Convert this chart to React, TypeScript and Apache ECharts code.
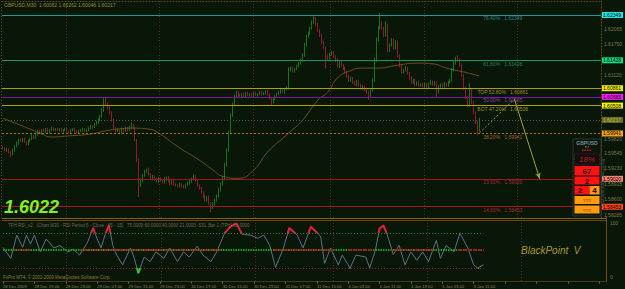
import React, { useEffect, useRef } from "react";
import * as echarts from "echarts";

// ---------------- DATA ----------------
const TOTAL_SLOTS = 308; // bar slots incl. empty chart shift on the right
const firstOpen = 15966; // price in 1e-4 units
const closes = [
  15964, 15960, 15962, 15956, 15952, 15960, 15968, 15974, 15981, 15979, 15983, 15977, 15972, 15979, 15983, 15989, 15985, 15993, 15999, 15995,
  16001, 15999, 16003, 15997, 16001, 16005, 16001, 16003, 16001, 16003, 15999, 16001, 16003, 15999, 15997, 16001, 16003, 15999, 15997, 15999,
  16001, 16003, 15999, 16001, 16005, 16009, 16007, 16013, 16017, 16021, 16029, 16041, 16062, 16054, 16046, 16037, 16021, 16005, 15999, 16001,
  15995, 16003, 15999, 16005, 16001, 16007, 16011, 16005, 15981, 15940, 15889, 15899, 15909, 15916, 15920, 15911, 15903, 15907, 15901, 15897,
  15903, 15899, 15895, 15901, 15905, 15897, 15893, 15899, 15891, 15889, 15887, 15891, 15887, 15885, 15889, 15893, 15897, 15901, 15907, 15899,
  15889, 15883, 15875, 15867, 15859, 15865, 15852, 15844, 15850, 15859, 15867, 15879, 15891, 15903, 15930, 15960, 15997, 16031, 16054, 16070,
  16078, 16072, 16068, 16074, 16070, 16076, 16072, 16074, 16070, 16076, 16072, 16074, 16078, 16074, 16076, 16080, 16074, 16066, 16058, 16064,
  16070, 16074, 16078, 16082, 16078, 16084, 16086, 16123, 16127, 16121, 16125, 16131, 16137, 16143, 16153, 16174, 16192, 16198, 16208, 16220,
  16228, 16216, 16204, 16194, 16180, 16168, 16151, 16147, 16155, 16159, 16151, 16143, 16131, 16139, 16133, 16127, 16119, 16111, 16102, 16107,
  16098, 16094, 16100, 16092, 16086, 16090, 16084, 16078, 16072, 16082, 16102, 16143, 16184, 16208, 16220, 16208, 16194, 16214, 16163, 16174,
  16184, 16168, 16180, 16153, 16133, 16119, 16123, 16127, 16117, 16107, 16098, 16102, 16094, 16098, 16092, 16094, 16090, 16094, 16088, 16096,
  16100, 16094, 16098, 16078, 16090, 16094, 16090, 16096, 16092, 16098, 16102, 16123, 16137, 16147, 16143, 16133, 16113, 16086, 16068, 16052,
  16082, 16058, 16037, 16017, 16001, 16022,
];
const upWick = [
  3, 2, 3, 2, 2, 3, 2, 4, 2, 3, 2, 3, 2, 3, 2, 4, 2, 3, 2, 3,
  2, 3, 2, 3, 2, 3, 2, 2, 3, 2, 3, 2, 3, 2, 2, 3, 2, 3, 2, 3,
  2, 3, 2, 3, 2, 3, 2, 3, 3, 4, 3, 5, 4, 6, 3, 3, 2, 3, 2, 3,
  2, 3, 2, 3, 2, 3, 6, 2, 3, 2, 3, 4, 3, 4, 3, 5, 3, 3, 2, 3,
  3, 2, 3, 4, 2, 3, 2, 3, 3, 2, 2, 3, 2, 3, 2, 3, 4, 3, 4, 3,
  3, 2, 3, 2, 3, 2, 3, 2, 4, 3, 3, 4, 3, 5, 4, 4, 3, 4, 3, 3,
  3, 2, 3, 2, 3, 2, 3, 2, 3, 2, 3, 2, 3, 2, 3, 2, 3, 2, 3, 3,
  2, 3, 2, 3, 2, 3, 4, 6, 3, 3, 2, 3, 3, 3, 4, 4, 3, 3, 3, 4,
  7, 3, 3, 2, 3, 3, 3, 4, 3, 3, 3, 2, 4, 3, 3, 2, 3, 2, 3, 3,
  2, 3, 3, 2, 3, 3, 2, 3, 2, 3, 4, 5, 5, 4, 19, 3, 3, 8, 3, 3,
  4, 3, 4, 3, 2, 3, 3, 4, 3, 2, 3, 3, 3, 2, 3, 2, 3, 3, 3, 2,
  3, 2, 3, 2, 3, 2, 3, 3, 2, 3, 3, 4, 4, 3, 6, 3, 3, 2, 3, 2,
  14, 3, 3, 2, 3, 4,
];
const downWick = [
  3, 2, 3, 3, 6, 2, 3, 2, 3, 2, 3, 2, 3, 2, 3, 2, 3, 2, 3, 2,
  3, 2, 3, 2, 3, 2, 3, 2, 2, 3, 2, 3, 2, 3, 2, 3, 2, 3, 3, 2,
  2, 3, 2, 3, 2, 2, 3, 2, 2, 3, 2, 3, 3, 3, 3, 4, 3, 3, 3, 2,
  3, 2, 3, 2, 3, 2, 3, 2, 3, 4, 24, 4, 3, 3, 2, 3, 3, 4, 3, 3,
  3, 3, 2, 3, 3, 2, 4, 3, 3, 3, 3, 2, 3, 3, 3, 2, 3, 3, 2, 3,
  3, 3, 3, 4, 3, 3, 3, 10, 3, 3, 3, 3, 3, 3, 3, 3, 3, 3, 3, 3,
  3, 3, 2, 3, 2, 3, 2, 3, 2, 3, 2, 3, 2, 3, 2, 3, 3, 3, 8, 3,
  2, 3, 2, 3, 2, 3, 2, 3, 3, 3, 3, 2, 3, 3, 3, 3, 3, 3, 3, 3,
  3, 4, 3, 4, 4, 3, 25, 4, 3, 3, 4, 4, 3, 4, 3, 4, 3, 4, 3, 3,
  3, 3, 4, 3, 3, 3, 4, 3, 10, 3, 3, 3, 3, 3, 3, 3, 4, 3, 4, 3,
  3, 4, 3, 4, 4, 3, 3, 3, 3, 4, 3, 3, 3, 3, 3, 3, 3, 3, 3, 3,
  3, 3, 3, 10, 3, 3, 3, 3, 3, 3, 3, 3, 3, 3, 3, 3, 4, 4, 4, 4,
  4, 4, 4, 4, 10, 3,
];
// moving average samples [bar index, price]
const maPoints = [
  [0, 1.6025], [9, 1.6011], [19, 1.5995], [25, 1.5987], [33, 1.5989], [45, 1.5993], [55, 1.6001],
  [67, 1.6005], [75, 1.6003], [80, 1.5995], [90, 1.5967], [101, 1.594], [108, 1.592], [113, 1.5907],
  [121, 1.5903], [129, 1.592], [136, 1.5956], [147, 1.5995], [154, 1.6021], [162, 1.6062], [167, 1.6078],
  [172, 1.6107], [177, 1.6119], [185, 1.6127], [193, 1.6127], [203, 1.6133], [213, 1.6137], [222, 1.6135],
  [228, 1.6127], [237, 1.6119], [245, 1.6111],
];
// RSI samples [bar index, value]
const rsiPoints = [
  [0, 53], [4, 36], [7, 72], [10, 53], [12, 72], [14, 58], [16, 72], [19, 46], [22, 66], [26, 52], [29, 56],
  [33, 46], [36, 50], [39, 41], [43, 60], [46, 83], [48, 66], [50, 52], [52, 72], [54, 87], [56, 56], [58, 41],
  [61, 26], [65, 52], [67, 36], [69, 13], [72, 38], [75, 31], [78, 46], [82, 36], [85, 52], [89, 31], [92, 46],
  [95, 38], [99, 55], [102, 41], [106, 31], [109, 46], [113, 75], [116, 85], [119, 90], [122, 73], [126, 72],
  [130, 67], [133, 72], [136, 56], [139, 22], [143, 52], [146, 83], [150, 72], [153, 52], [157, 85], [162, 70],
  [164, 28], [167, 52], [171, 26], [173, 41], [177, 21], [180, 41], [185, 38], [187, 21], [190, 50], [192, 82],
  [194, 87], [196, 72], [199, 42], [202, 56], [205, 26], [208, 46], [211, 33], [214, 46], [217, 31], [221, 64],
  [223, 36], [226, 56], [230, 46], [233, 75], [237, 52], [240, 26], [242, 21], [245, 26],
];
const midRedSegments = [[6, 14], [40, 111], [138, 169], [176, 189], [198, 220], [232, 245]];
const rsiLevels = { upper: 75, mid: 50, lower: 21 };
const timeLabels = [
  "28 Dec 2009", "28 Dec 15:00", "28 Dec 23:00", "29 Dec 07:00", "29 Dec 15:00", "29 Dec 23:00",
  "30 Dec 07:00", "30 Dec 15:00", "30 Dec 23:00", "31 Dec 07:00", "31 Dec 15:00", "4 Jan 03:00",
  "4 Jan 11:00", "4 Jan 19:00", "5 Jan 03:00", "5 Jan 11:00",
];
const LABEL_EVERY = 16;
const daySeparators = [33, 81, 129, 169, 217, 265];
const priceTicks = [1.62065, 1.6175, 1.6112, 1.5982, 1.59545, 1.5923, 1.58915, 1.586, 1.58285];
const priceMin = 1.58224;
const priceMax = 1.62633;
const fibNames = ["76.40%", "61.80%", "TOP 52.80%", "50.00%", "BOT 47.20%", "38.20%", "23.60%", "14.60%"];
const fibPrices = [1.62349, 1.61428, 1.60861, 1.60685, 1.60508, 1.59941, 1.5902, 1.58453];
const fibLabelSlot = 257;
const bidPrice = 1.60217;
const arrowPath = [[245, 1.5995], [263, 1.6064], [276, 1.5902]];
const headerText = "GBPUSD,M30  1.60062 1.60262 1.60046 1.60217";
const bigPrice = "1.6022";

// ---------------- STYLES ----------------
const BG = "#091709";
const FONT = "Liberation Sans";
const fibLineColors = ["#229a9a", "#129a62", "#b49c06", "#7e12b0", "#b4a010", "#b07018", "#9a1a1a", "#a41a1a"];
const fibLineDashed = [false, false, false, false, false, true, false, false];
const fibTextColors = ["#2fa2b2", "#22a272", "#c2b224", "#b244d2", "#c2b224", "#c27c32", "#c43232", "#c43232"];
const fibBoxColors = ["#22e6e6", "#12d882", "#f2f200", "#f222f2", "#f2f200", "#f2a212", "#f28272", "#ff4618"];

function buildOption(): any {
  const cats = Array.from({ length: TOTAL_SLOTS }, (_, i) => String(i));
  const candles = closes.map((c, i) => {
    const o = i === 0 ? firstOpen : closes[i - 1];
    const hi = Math.max(o, c) + upWick[i];
    const lo = Math.min(o, c) - downWick[i];
    return [o / 1e4, c / 1e4, lo / 1e4, hi / 1e4];
  });

  const fibMarks = fibPrices.map((p, k) => ({
    yAxis: p,
    lineStyle: { color: fibLineColors[k], width: 1, type: fibLineDashed[k] ? [2, 2] : "solid" },
    label: {
      show: true, position: "end", distance: 1, formatter: () => p.toFixed(5),
      backgroundColor: fibBoxColors[k], color: "#000", fontSize: 5, fontFamily: FONT,
      padding: [1, 2, 0, 1],
    },
  }));
  const bidMark = {
    yAxis: bidPrice,
    lineStyle: { color: "#5a5a5a", width: 1, type: [1, 2] },
    label: {
      show: true, position: "end", distance: 1, formatter: () => bidPrice.toFixed(5),
      backgroundColor: "#6a6a1c", color: "#b4b470", fontSize: 5, fontFamily: FONT, padding: [1, 2, 0, 1],
    },
  };
  const arrowMarks = [
    [
      { coord: arrowPath[0], lineStyle: { color: "#9a9a32", width: 1, type: [2, 2] } },
      { coord: arrowPath[1] },
    ],
    [
      { coord: arrowPath[1], lineStyle: { color: "#a2a232", width: 1, type: "solid" } },
      { coord: arrowPath[2], symbol: "arrow", symbolSize: [4, 6] },
    ],
  ];

  const dotted = [1, 2];
  const splitLine = {
    show: true,
    interval: (idx: number) => daySeparators.includes(idx),
    lineStyle: { color: "#5a2e16", type: dotted, width: 1 },
  };

  const last = closes.length - 1;
  const midMarks = [
    [{ coord: [0, rsiLevels.upper], lineStyle: { color: "#1c8c1c", type: dotted, width: 1 } }, { coord: [last, rsiLevels.upper] }],
    [{ coord: [0, rsiLevels.lower], lineStyle: { color: "#9c1c1c", type: dotted, width: 1 } }, { coord: [last, rsiLevels.lower] }],
    [{ coord: [0, rsiLevels.mid], lineStyle: { color: "#14a414", type: [1.5, 1], width: 2 } }, { coord: [last, rsiLevels.mid] }],
    ...midRedSegments.map(([s, e]) => [
      { coord: [s, rsiLevels.mid], lineStyle: { color: "#c41616", type: [1.5, 1], width: 2 } },
      { coord: [e, rsiLevels.mid] },
    ]),
  ];

  const txt = (x: number, y: number, text: string, fill: string, fontSize: number, extra: any = {}) => ({
    type: "text", x, y, z: 100, silent: true,
    style: { text, fill, fontSize, fontFamily: FONT, textVerticalAlign: "middle", ...extra },
  });
  const box = (x: number, y: number, w: number, h: number, fill: string, stroke?: string, dash?: any) => ({
    type: "rect", z: 99, silent: true, shape: { x, y, width: w, height: h },
    style: { fill, stroke: stroke || null, lineWidth: stroke ? 1 : 0, lineDash: dash || null },
  });
  const hline = (x1: number, x2: number, y: number, stroke: string, dash?: any) => ({
    type: "line", z: 98, silent: true, shape: { x1, y1: y, x2, y2: y },
    style: { stroke, lineWidth: 1, lineDash: dash || null },
  });

  const graphic = [
    txt(4, 5, headerText, "#9e8c2a", 5),
    txt(4, 207, bigPrice, "#86f01e", 18, { fontWeight: "bold", fontStyle: "italic" }),
    hline(2, 606, 218.5, "#8a5c14"),
    hline(2, 606, 220.5, "#6a4410"),
    { type: "line", z: 98, silent: true, shape: { x1: 1.5, y1: 1, x2: 1.5, y2: 218 }, style: { stroke: "#5a4a22", lineWidth: 1, lineDash: [1, 2] } },
    txt(8, 225.5, "TFH RSI_v2   (Chart M30 - RSI Period 5 - Close   65 - 15)   75.0000 60.0000 40.0000 21.0000 -SSL Bar 1 (TFH) 50.0000", "#6e6c4c", 4.5),
    txt(3, 277, "FxPro MT4, \u00a9 2001-2009 MetaQuotes Software Corp.", "#8a7a32", 4.5),
    txt(521, 250, "BlackPoint  V", "#a89828", 10, { fontStyle: "italic" }),
    // info panel
    box(573, 139, 28, 77, "#0b150e", "#2a382e"),
    txt(587, 142.5, "GBPUSD", "#72928e", 5, { fontWeight: "bold", textAlign: "center" }),
    box(585, 146, 1.5, 1.5, "#2ab02a"), box(587.5, 146, 1.5, 1.5, "#d02020"),
    box(582, 149.5, 1.5, 1.5, "#d02020"), box(584.5, 149.5, 1.5, 1.5, "#d02020"),
    box(587, 149.5, 1.5, 1.5, "#d02020"), box(589.5, 149.5, 1.5, 1.5, "#d02020"),
    box(574.5, 154, 25, 10, "#150c0c", "#3c2a2a", [1, 1]),
    txt(587, 159.5, "18%", "#b82626", 8, { fontStyle: "italic", textAlign: "center" }),
    box(574.5, 166, 25, 9.5, "#ff1212"),
    txt(587, 171, "67", "#1a0000", 8, { fontWeight: "bold", textAlign: "center" }),
    box(574.5, 176.5, 25, 8, "#ff1212"),
    txt(587, 181, "2", "#1a0000", 8, { fontWeight: "bold", textAlign: "center" }),
    box(574.5, 186, 15, 8.5, "#ff1212"),
    box(589.5, 186, 10, 8.5, "#ff9a12"),
    txt(580, 190.5, "2", "#1a0000", 8, { fontWeight: "bold", textAlign: "center" }),
    txt(589.5, 190.5, "\u00b7", "#1a0000", 6, { textAlign: "center" }),
    txt(594.5, 190.5, "4", "#1a0000", 8, { fontWeight: "bold", textAlign: "center" }),
    box(574.5, 196, 25, 8, "#ff9c12"),
    txt(587, 200, "\u2248\u2248\u2248", "#5a2a00", 5, { textAlign: "center" }),
    box(574.5, 205.5, 25, 8, "#ff9c12"),
    txt(587, 209.5, "\u2248\u2248\u2248", "#5a2a00", 5, { textAlign: "center" }),
    {
      type: "text", z: 100, silent: true, x: 603, y: 182, rotation: -Math.PI / 2,
      style: { text: "BlackPoint signal indicator", fill: "#4a5854", fontSize: 4, fontFamily: FONT, textAlign: "center", textVerticalAlign: "middle" },
    },
  ];

  return {
    animation: false,
    backgroundColor: BG,
    textStyle: { fontFamily: FONT },
    grid: [
      { left: 2, top: 1, width: 604, height: 217 },
      { left: 2, top: 217, width: 604, height: 64.6 },
    ],
    xAxis: [
      {
        type: "category", gridIndex: 0, data: cats, position: "top", boundaryGap: true,
        axisLine: { show: true, lineStyle: { color: "#5a4a22", type: dotted } },
        axisTick: { show: false }, axisLabel: { show: false }, splitLine,
      },
      {
        type: "category", gridIndex: 1, data: cats, position: "bottom", boundaryGap: true,
        axisLine: { show: true, lineStyle: { color: "#4a3a1a" } },
        axisTick: { show: true, interval: LABEL_EVERY - 1, alignWithLabel: true, length: 2, lineStyle: { color: "#7a6a30" } },
        axisLabel: {
          show: true, interval: LABEL_EVERY - 1, align: "left", margin: 2.5, fontSize: 4.2, color: "#8e8452",
          fontFamily: FONT, formatter: (_v: string, idx: number) => timeLabels[idx / LABEL_EVERY] ?? "",
        },
        splitLine,
      },
    ],
    yAxis: [
      {
        type: "value", gridIndex: 0, position: "right", min: priceMin, max: priceMax,
        axisLine: { show: true, lineStyle: { color: "#6e4c18", type: dotted } },
        axisTick: { show: false }, splitLine: { show: false },
        axisLabel: {
          show: true, customValues: priceTicks, formatter: (v: number) => v.toFixed(5),
          color: "#7e7848", fontSize: 5, margin: 3, fontFamily: FONT,
        },
      },
      {
        type: "value", gridIndex: 1, position: "right", min: 0, max: 100,
        axisLine: { show: true, lineStyle: { color: "#6e4c18" } },
        axisTick: { show: false }, splitLine: { show: false },
        axisLabel: {
          show: true, customValues: [100, 0], margin: 4, color: "#7e7848", fontSize: 5, fontFamily: FONT,
          formatter: (v: number) => (v > 50 ? "{t|100}" : "{b|0}"),
          rich: { t: { padding: [12, 0, 0, 0], fontSize: 5, color: "#7e7848" }, b: { padding: [0, 0, 9, 0], fontSize: 5, color: "#7e7848" } },
        },
      },
    ],
    visualMap: [
      {
        type: "piecewise", show: false, seriesIndex: 4, dimension: 1,
        pieces: [
          { gt: rsiLevels.upper, color: "#e2203a" },
          { lt: rsiLevels.lower, color: "#2ac42a" },
          { gte: rsiLevels.lower, lte: rsiLevels.upper, color: "rgba(0,0,0,0)" },
        ],
      },
    ],
    series: [
      {
        type: "candlestick", xAxisIndex: 0, yAxisIndex: 0, data: candles, barWidth: 1,
        itemStyle: { color: "#1c9e1c", color0: "#c4203c", borderColor: "#1c9e1c", borderColor0: "#c4203c", borderWidth: 0.7 },
        markLine: {
          silent: true, animation: false, symbol: ["none", "none"], precision: 5,
          data: [...fibMarks, bidMark, ...arrowMarks],
        },
      },
      {
        type: "line", xAxisIndex: 0, yAxisIndex: 0, data: maPoints, smooth: true, showSymbol: false,
        lineStyle: { color: "#6e4e1c", width: 1 }, z: 1,
      },
      {
        type: "scatter", xAxisIndex: 0, yAxisIndex: 0, symbolSize: 1, itemStyle: { color: "rgba(0,0,0,0)" },
        data: fibPrices.map((p, k) => ({
          value: [fibLabelSlot, p], name: fibNames[k],
          label: { color: fibTextColors[k] },
        })),
        label: {
          show: true, position: "bottom", distance: 0.5, fontSize: 5, fontFamily: FONT,
          formatter: (pr: any) => `${pr.name}   ${pr.value[1].toFixed(5)}`,
        },
      },
      {
        type: "line", xAxisIndex: 1, yAxisIndex: 1, data: rsiPoints, showSymbol: false,
        lineStyle: { color: "#5d6f8c", width: 1 }, z: 3,
        markLine: { silent: true, animation: false, symbol: ["none", "none"], precision: 2, label: { show: false }, data: midMarks },
      },
      {
        type: "line", xAxisIndex: 1, yAxisIndex: 1, data: rsiPoints, showSymbol: false,
        lineStyle: { width: 2 }, z: 4,
      },
    ],
    graphic,
  };
}

export default function App() {
  const ref = useRef<HTMLDivElement>(null);
  useEffect(() => {
    document.body.style.margin = "0";
    document.body.style.background = BG;
    const chart = echarts.init(ref.current!, undefined, { renderer: "svg" });
    chart.setOption(buildOption());
    return () => chart.dispose();
  }, []);
  return <div ref={ref} style={{ position: "fixed", left: 0, top: 0, width: 625, height: 289 }} />;
}
